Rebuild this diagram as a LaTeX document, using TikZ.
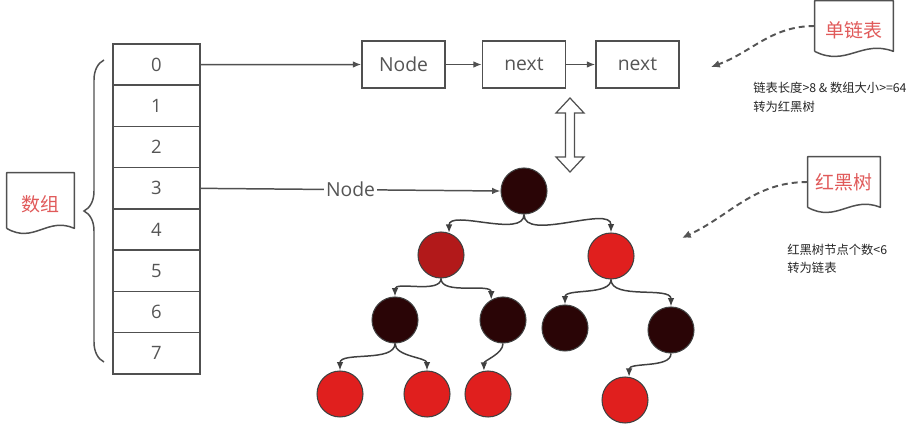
\documentclass[tikz,border=0pt]{standalone}
\usepackage{fontspec}
\setmainfont{Open Sans}
\newfontfamily\cjk{Noto Sans CJK SC}
\usetikzlibrary{arrows.meta,calc,decorations.pathreplacing}
\definecolor{LineGray}{HTML}{505050}
\definecolor{TextGray}{HTML}{555555}
\definecolor{EdgeGray}{HTML}{404040}
\definecolor{DocRed}{HTML}{E05A5A}
\definecolor{RbBlack}{HTML}{2A0506}
\definecolor{RbRed}{HTML}{E01F1E}
\definecolor{RbDark}{HTML}{B2191A}

\tikzset{
  cell/.style={draw=LineGray,line width=0.85pt,minimum width=1.74cm,minimum height=0.825cm,
    inner sep=0pt,text=TextGray,font=\fontsize{10.5}{12}\selectfont},
  listbox/.style={cell,minimum width=1.66cm,minimum height=0.94cm,font=\fontsize{11}{13}\selectfont},
  doc/.style={inner sep=0pt,text=DocRed,font=\cjk\fontsize{10.8}{12}\selectfont},
  lowtext/.style={text height=14pt,text depth=1.3pt},
  docline/.style={draw=LineGray,line width=0.85pt,line join=round},
  link/.style={->,draw=LineGray,line width=0.85pt},
  blk/.style={circle,minimum size=0.92cm,inner sep=0pt,draw=EdgeGray,line width=0.6pt,fill=RbBlack},
  rnode/.style={blk,fill=RbRed},
  dnode/.style={blk,fill=RbDark},
  tedge/.style={->,draw=EdgeGray,line width=0.85pt,looseness=0.8},
  hint/.style={-{Latex[length=5pt,width=4.5pt]},draw=TextGray,line width=1.1pt,dash pattern=on 3.4pt off 2.3pt},
  note/.style={inner sep=0pt,align=left,text=black!85,font=\cjk\fontsize{7}{10.8}\selectfont}
}

\begin{document}
\begin{tikzpicture}[x=0.02cm,y=0.02cm,>={Latex[length=4.8pt,width=3.8pt]}]
\useasboundingbox (0,0) rectangle (921,-429);

% array
\foreach \i in {0,...,7}
  \node[cell] (r\i) at (156.5,{-64.6-41.25*\i}) {\i};
\draw[draw=LineGray,line width=0.85pt,decorate,decoration={brace,amplitude=0.4cm}]
  (104,-362) -- (104,-60);

% labels
\node[doc,lowtext,minimum width=1.34cm,minimum height=1.1cm] (arrDoc) at (40.5,-200.5) {数组};
\node[doc,lowtext,minimum width=1.56cm,minimum height=1.0cm] (sllDoc) at (854,-26) {单链表};
\node[doc,minimum width=1.44cm,minimum height=1.0cm] (rbtDoc) at (844,-182) {红黑树};
\foreach \n in {arrDoc,sllDoc,rbtDoc}
  \draw[docline] (\n.south west) -- (\n.north west) -- (\n.north east) -- (\n.south east)
    .. controls ($(\n.south east)!0.4!(\n.south west)+(0,12)$) and ($(\n.south east)!0.6!(\n.south west)+(0,-16)$) .. (\n.south west);

% linked list
\node[listbox] (lnNode) at (403.5,-64.5) {Node};
\node[listbox] (lnNext) at (524,-64.5) {next};
\node[listbox] (lnLast) at (637.5,-64.5) {next};
\draw[link] (r0.east) -- (lnNode.west);
\draw[link] (lnNode) -- (lnNext);
\draw[link] (lnNext) -- (lnLast);

% convert
\draw[draw=LineGray,line width=0.7pt,line join=miter]
  (570,-98) -- (584,-113) -- (574.5,-113) -- (574.5,-157) -- (584,-157) -- (570,-172)
  -- (556,-157) -- (565.5,-157) -- (565.5,-113) -- (556,-113) -- cycle;

% red-black tree
\node[blk] (rbRoot) at (524,-191) {};
\node[dnode] (rbL) at (441,-255) {};
\node[rnode] (rbR) at (611,-256) {};
\node[blk] (rbLL) at (395,-320) {};
\node[blk] (rbLR) at (503,-320) {};
\node[blk] (rbRL) at (565,-328) {};
\node[blk] (rbRR) at (671,-330) {};
\node[rnode] (rbLLL) at (340,-394) {};
\node[rnode] (rbLLR) at (427,-394) {};
\node[rnode] (rbLRL) at (488,-394) {};
\node[rnode] (rbRRL) at (625,-400) {};

\draw[link] (r3.east) -- node[fill=white,inner sep=1pt,text=TextGray,font=\fontsize{11}{13}\selectfont] (lblNode) {Node} (rbRoot.west);

\draw[tedge] (rbRoot.south) to[out=-90,in=90] (rbL.70);
\draw[tedge] (rbRoot.south) to[out=-90,in=90] (rbR.north);
\draw[tedge] (rbL.south) to[out=-90,in=90] (rbLL.north);
\draw[tedge] (rbL.south) to[out=-90,in=90] (rbLR.120);
\draw[tedge] (rbR.south) to[out=-90,in=90] (rbRL.north);
\draw[tedge] (rbR.south) to[out=-90,in=90] (rbRR.north);
\draw[tedge] (rbLL.south) to[out=-90,in=90] (rbLLL.north);
\draw[tedge] (rbLL.south) to[out=-90,in=90] (rbLLR.north);
\draw[tedge] (rbLR.south) to[out=-90,in=90] (rbLRL.100);
\draw[tedge] (rbRR.south) to[out=-90,in=90] (rbRRL.80);

% notes
\coordinate (sllTip) at (711,-67);
\draw[hint] (sllDoc.west) to[out=180,in=20] (sllTip);
\node[note,anchor=west] (sllNote) at (753,-97.5) {链表长度>8 \& 数组大小>=64\\转为红黑树};
\coordinate (rbtTip) at (682,-238);
\draw[hint] (rbtDoc.west) to[out=180,in=25] (rbtTip);
\node[note,anchor=west,font=\cjk\fontsize{7}{10.2}\selectfont] (rbtNote) at (787,-259) {红黑树节点个数<6\\转为链表};
\end{tikzpicture}
\end{document}
